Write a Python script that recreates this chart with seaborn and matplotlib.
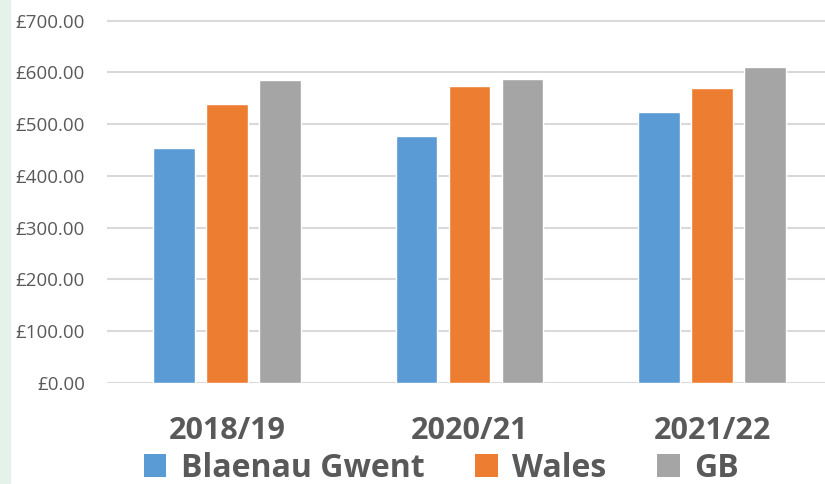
import matplotlib
matplotlib.use("Agg")
import matplotlib.pyplot as plt
from matplotlib.patches import Patch, Rectangle
from matplotlib.ticker import FuncFormatter
import seaborn as sns
import pandas as pd

years = ["2018/19", "2020/21", "2021/22"]
areas = ["Blaenau Gwent", "Wales", "GB"]
blaenau_gwent = [454, 477, 523]
wales = [539, 574, 569]
gb = [586, 587, 611]
colours = ["#5B9BD5", "#ED7D31", "#A5A5A5"]

rows = []
for area, vals in zip(areas, [blaenau_gwent, wales, gb]):
    for y, v in zip(years, vals):
        rows.append({"year": y, "area": area, "value": v})
df = pd.DataFrame(rows)

sns.set_style("white")
plt.rcParams["font.family"] = ["Open Sans", "DejaVu Sans"]

fig = plt.figure(figsize=(8.25, 4.84), dpi=100)
# pale green page strip on the left
fig.patches.append(Rectangle((0, 0), 11 / 825, 1, transform=fig.transFigure,
                             facecolor="#e4f2ea", edgecolor="none", zorder=0))
ax = fig.add_axes([107 / 825, 1 - 383 / 484, 1 - 107 / 825, (383 - 17) / 484])

sns.barplot(data=df, x="year", y="value", hue="area", palette=colours,
            saturation=1, width=0.656, gap=0.21, ax=ax, legend=False, zorder=3)

ax.set_xlim(-0.495, 2.466)
ax.set_ylim(0, 707)
ax.set_yticks(range(0, 701, 100))
ax.yaxis.set_major_formatter(FuncFormatter(lambda v, p: f"£{v:.2f}"))
ax.grid(axis="y", color="#d9d9d9", linewidth=1.5, zorder=0)
ax.set_axisbelow(True)
for s in ax.spines.values():
    s.set_visible(False)
ax.set_xlabel("")
ax.set_ylabel("")
ax.tick_params(axis="y", length=0, pad=16, labelsize=13.5, labelcolor="#595959")
ax.tick_params(axis="x", length=0, pad=24, labelsize=22, labelcolor="#595959")
for lab in ax.get_xticklabels():
    lab.set_fontweight("bold")

handles = [Patch(facecolor=c, edgecolor="none") for c in colours]
fig.legend(handles, areas, loc="center", bbox_to_anchor=(0.535, 0.033), ncol=3,
           frameon=False, prop={"weight": "bold", "size": 23},
           labelcolor="#595959", handlelength=0.7, handleheight=0.7,
           handletextpad=0.45, columnspacing=1.6, borderaxespad=0)

fig.savefig("out.png", dpi=100)
